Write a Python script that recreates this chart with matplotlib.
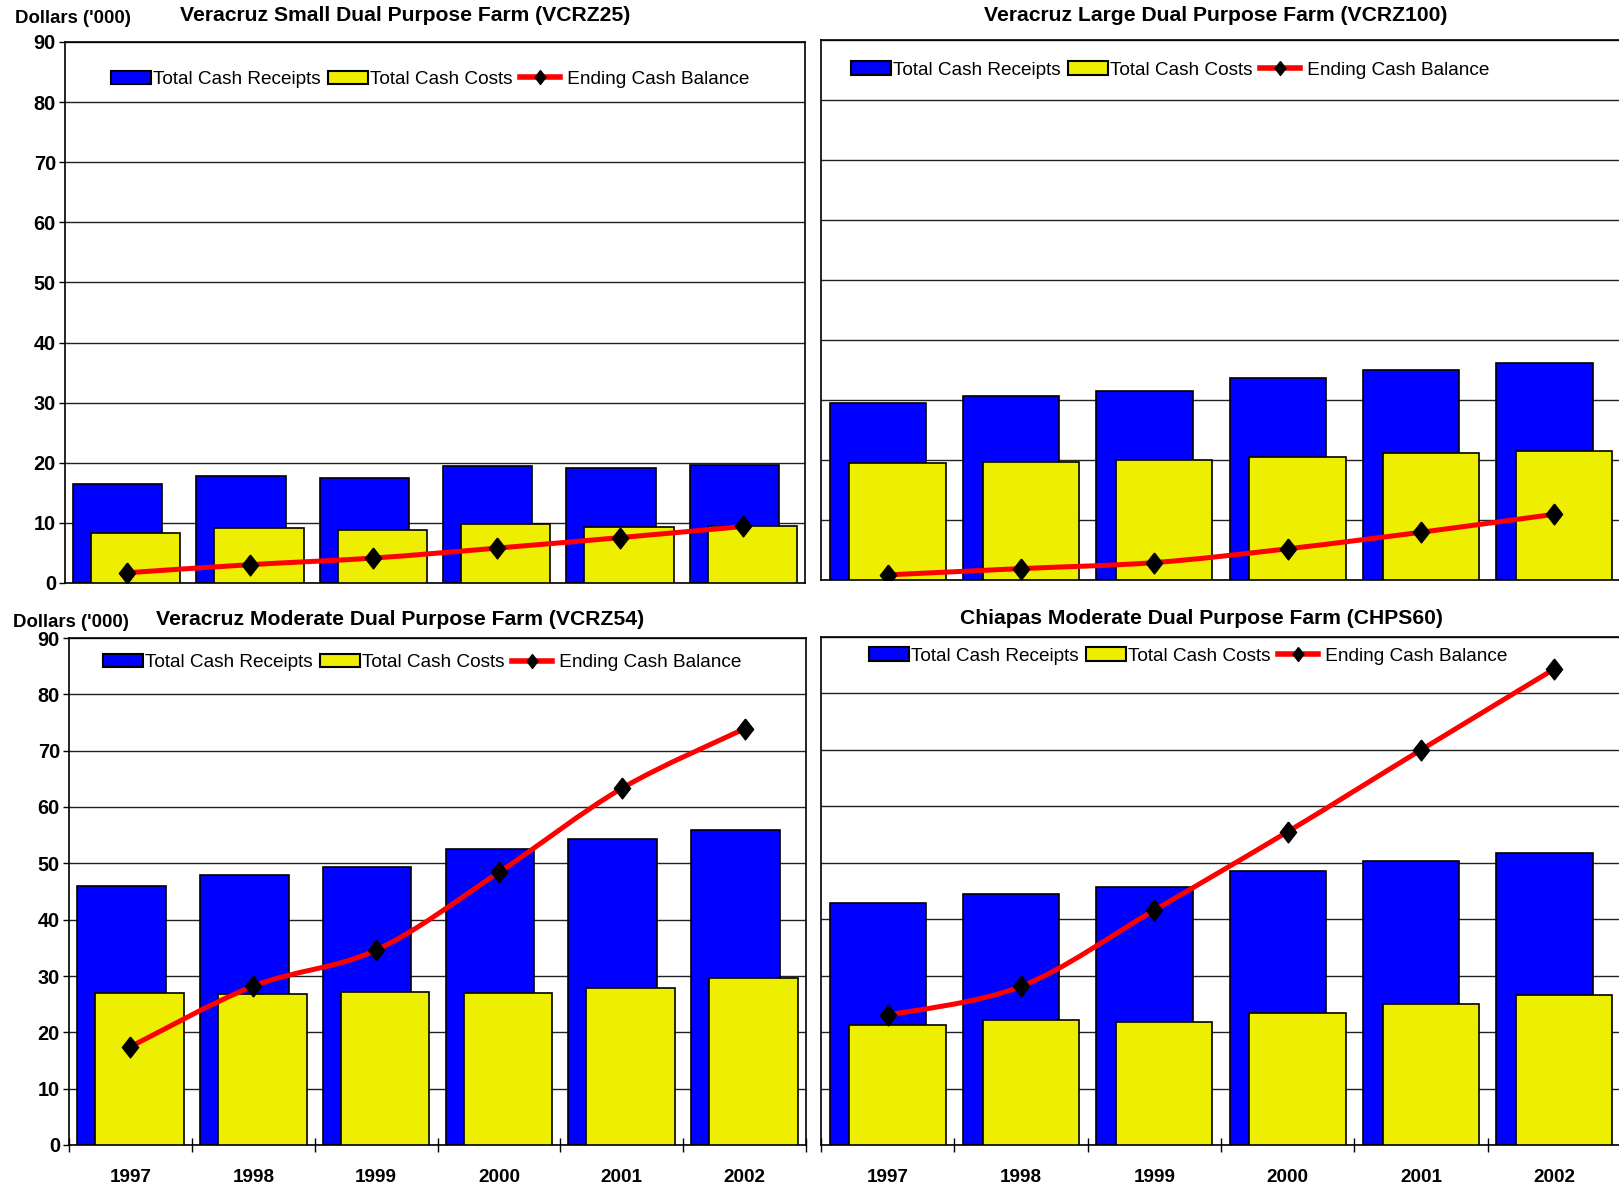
import matplotlib
matplotlib.use("Agg")
import matplotlib.pyplot as plt
from matplotlib.path import Path
from matplotlib.patches import PathPatch, Patch
from matplotlib.lines import Line2D
import numpy as np

plt.rcParams['font.family'] = ['Liberation Sans', 'DejaVu Sans']

W, H = 1619, 1188

years = ['1997', '1998', '1999', '2000', '2001', '2002']

# Veracruz small (VCRZ25)
vcrz25_receipts = [16.4, 17.8, 17.55, 19.4, 19.2, 19.7]
vcrz25_costs = [8.4, 9.2, 8.8, 9.8, 9.3, 9.55]
vcrz25_balance = [1.7, 3.05, 4.15, 5.8, 7.55, 9.4]

# Veracruz large (VCRZ100)
vcrz100_receipts = [29.45, 30.6, 31.45, 33.6, 34.9, 36.2]
vcrz100_costs = [19.45, 19.6, 20.05, 20.55, 21.1, 21.5]
vcrz100_balance = [0.85, 1.9, 2.9, 5.2, 7.95, 10.95]

# Veracruz moderate (VCRZ54)
vcrz54_receipts = [46.0, 47.9, 49.4, 52.5, 54.25, 56.0]
vcrz54_costs = [26.9, 26.8, 27.2, 27.0, 27.9, 29.7]
vcrz54_balance = [17.45, 28.2, 34.6, 48.4, 63.3, 73.9]

# Chiapas moderate (CHPS60)
chps60_receipts = [42.8, 44.4, 45.75, 48.6, 50.25, 51.8]
chps60_costs = [21.3, 22.1, 21.75, 23.45, 24.95, 26.55]
chps60_balance = [23.0, 28.1, 41.6, 55.5, 70.0, 84.35]

BLUE = '#0000FF'
YELLOW = '#EEEE00'
RED = '#FF0000'

# diamond a bit taller than wide
DIAMOND = [(0, 1), (0.78, 0), (0, -1), (-0.78, 0), (0, 1)]


def fx(px):
    return px / W


def fy(py):
    return 1 - py / H


def smooth_path(x, y):
    # Catmull-Rom through the points, written as cubic Bezier segments
    pts = np.column_stack([x, y]).astype(float)
    ext = np.vstack([pts[0], pts, pts[-1]])
    verts = [pts[0]]
    codes = [Path.MOVETO]
    for i in range(1, len(ext) - 2):
        p0, p1, p2, p3 = ext[i - 1], ext[i], ext[i + 1], ext[i + 2]
        verts += [p1 + (p2 - p0) / 6, p2 - (p3 - p1) / 6, p2]
        codes += [Path.CURVE4] * 3
    return Path(verts, codes)


def panel(fig, box, receipts, costs, balance, title, title_xy,
          legend_xy, show_y, show_x):
    l, t, r, b = box
    ax = fig.add_axes([fx(l), fy(b), (r - l) / W, (b - t) / H])
    x = np.arange(len(years))

    ax.bar(x - 0.073, receipts, 0.722, color=BLUE, edgecolor='black',
           linewidth=1.2, zorder=2)
    ax.bar(x + 0.073, costs, 0.722, color=YELLOW, edgecolor='black',
           linewidth=1.2, zorder=3)
    ax.add_patch(PathPatch(smooth_path(x, balance), facecolor='none',
                           edgecolor=RED, linewidth=3.6, zorder=4,
                           capstyle='round'))
    ax.plot(x, balance, linestyle='none', marker=DIAMOND, markersize=15,
            color='black', zorder=5)

    ax.set_xlim(-0.5, 5.5)
    ax.set_ylim(0, 90)
    ax.set_yticks(range(0, 91, 10))
    ax.yaxis.grid(True, color='#222222', linewidth=1.0, zorder=0)
    ax.set_axisbelow(True)
    for s in ax.spines.values():
        s.set_linewidth(1.2)

    if show_y:
        ax.tick_params(axis='y', direction='out', length=4, width=1,
                       pad=2.5, labelsize=14.3)
        for lab in ax.get_yticklabels():
            lab.set_fontweight('bold')
    else:
        ax.tick_params(axis='y', length=0, labelleft=False)

    if show_x:
        ax.set_xticks(x)
        ax.set_xticklabels(years, fontsize=13.6, fontweight='bold')
        ax.tick_params(axis='x', which='major', length=0, pad=17)
        ax.set_xticks(np.arange(-0.5, 6.0, 1.0), minor=True)
        ax.tick_params(axis='x', which='minor', direction='inout',
                       length=10, width=1)
    else:
        ax.set_xticks([])

    fig.text(fx(title_xy[0]), fy(title_xy[1]), title, ha='center',
             va='center', fontsize=15.2, fontweight='bold')

    handles = [
        Patch(facecolor=BLUE, edgecolor='black', linewidth=1.5),
        Patch(facecolor=YELLOW, edgecolor='black', linewidth=1.5),
        Line2D([], [], color=RED, linewidth=4, marker=DIAMOND,
               markersize=10, markerfacecolor='black',
               markeredgecolor='black'),
    ]
    labels = ['Total Cash Receipts', 'Total Cash Costs', ' Ending Cash Balance']
    ax.legend(handles, labels, loc='center left',
              bbox_to_anchor=(fx(legend_xy[0]), fy(legend_xy[1])),
              bbox_transform=fig.transFigure, ncol=3, frameon=False,
              fontsize=13.7, handlelength=2.1, handleheight=0.7,
              handletextpad=0.1, columnspacing=0.4, borderpad=0,
              borderaxespad=0)
    return ax


fig = plt.figure(figsize=(W / 100, H / 100), dpi=100)

panel(fig, (65, 42, 805, 583), vcrz25_receipts, vcrz25_costs, vcrz25_balance,
      'Veracruz Small Dual Purpose Farm (VCRZ25)', (405, 15.5),
      (111, 79.5), True, False)
panel(fig, (821, 39.5, 1621, 580), vcrz100_receipts, vcrz100_costs,
      vcrz100_balance, 'Veracruz Large Dual Purpose Farm (VCRZ100)',
      (1216, 15.5), (851, 70), False, False)
panel(fig, (69, 638, 806, 1145), vcrz54_receipts, vcrz54_costs,
      vcrz54_balance, 'Veracruz Moderate Dual Purpose Farm (VCRZ54)',
      (400.5, 619.5), (103, 662.5), True, True)
panel(fig, (821, 637, 1621, 1145), chps60_receipts, chps60_costs,
      chps60_balance, 'Chiapas Moderate Dual Purpose Farm (CHPS60)',
      (1201, 618.5), (869, 656), False, True)

fig.text(fx(14.5), fy(18.5), "Dollars ('000)", ha='left', va='center',
         fontsize=13.4, fontweight='bold')
fig.text(fx(12.5), fy(622.5), "Dollars ('000)", ha='left', va='center',
         fontsize=13.4, fontweight='bold')

fig.savefig('out.png', dpi=100, facecolor='white')
